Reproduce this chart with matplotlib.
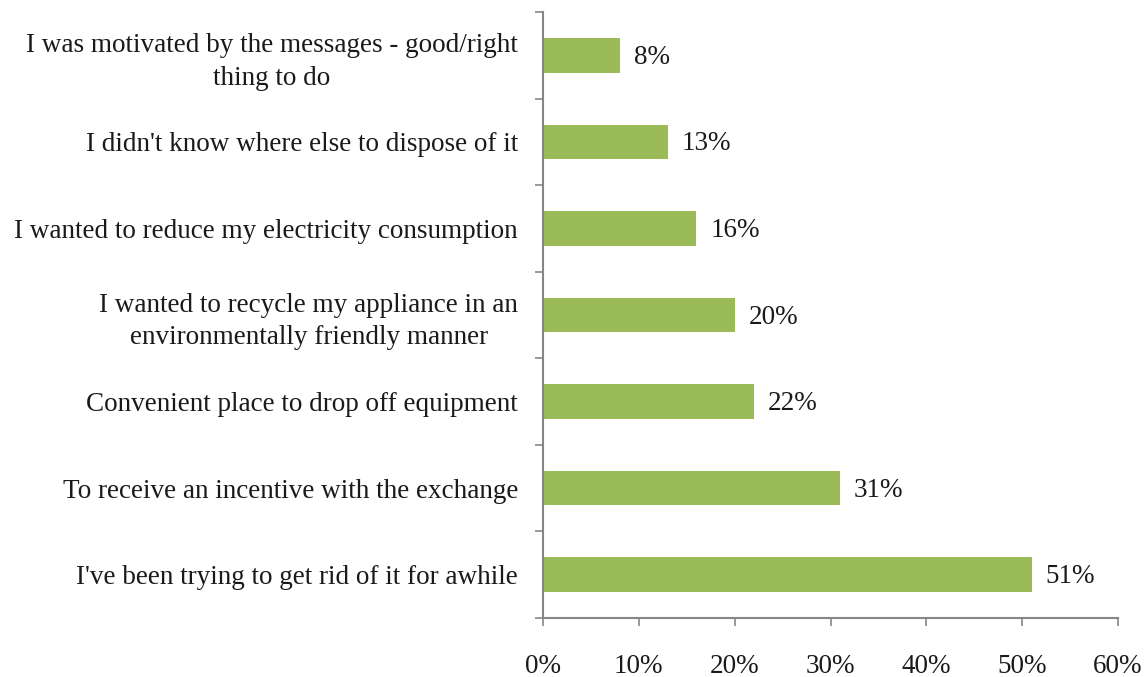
import matplotlib
matplotlib.use("Agg")
import matplotlib.pyplot as plt
from matplotlib.ticker import FixedLocator, PercentFormatter

reasons = [
    "I was motivated by the messages - good/right\nthing to do",
    "I didn't know where else to dispose of it",
    "I wanted to reduce my electricity consumption",
    "I wanted to recycle my appliance in an\nenvironmentally friendly manner",
    "Convenient place to drop off equipment",
    "To receive an incentive with the exchange",
    "I've been trying to get rid of it for awhile",
]
shares = [8, 13, 16, 20, 22, 31, 51]
x_ticks = [0, 10, 20, 30, 40, 50, 60]

plt.rcParams["font.family"] = ["Liberation Serif", "DejaVu Serif"]
FS = 19.5

fig = plt.figure(figsize=(11.45, 6.77), dpi=100)
ax = fig.add_axes([543 / 1145, 1 - 618 / 677, 575 / 1145, 606 / 677])

ypos = list(range(len(reasons)))
ax.barh(ypos, shares, height=0.4, color="#9BBB59", zorder=2)
ax.set_ylim(len(reasons) - 0.5, -0.5)
ax.set_xlim(0, 60)

for y, v in zip(ypos, shares):
    ax.annotate(f"{v}%", (v, y), xytext=(10, -1.5), textcoords="offset points",
                va="center", ha="left", fontsize=FS, color="#1a1a1a")

ax.set_yticks(ypos)
ax.set_yticklabels(reasons, fontsize=FS, color="#1a1a1a")
for lbl in ax.get_yticklabels():
    lbl.set_multialignment("center")
    lbl.set_linespacing(1.38)
    if "\n" in lbl.get_text():
        lbl.set_y(lbl.get_position()[1] - 0.04)
ax.yaxis.set_minor_locator(FixedLocator([i - 0.5 for i in range(len(reasons) + 1)]))
ax.tick_params(axis="y", which="major", length=0, pad=18)
ax.tick_params(axis="y", which="minor", length=6, width=1.2, color="#868686", direction="out")

ax.set_xticks(x_ticks)
ax.xaxis.set_major_formatter(PercentFormatter(decimals=0))
ax.tick_params(axis="x", which="major", length=6, width=1.2, color="#868686",
               direction="out", pad=20, labelsize=FS, labelcolor="#1a1a1a")

for side in ("top", "right"):
    ax.spines[side].set_visible(False)
for side in ("left", "bottom"):
    ax.spines[side].set_color("#868686")
    ax.spines[side].set_linewidth(1.5)

fig.savefig("out.png", dpi=100, facecolor="white")
